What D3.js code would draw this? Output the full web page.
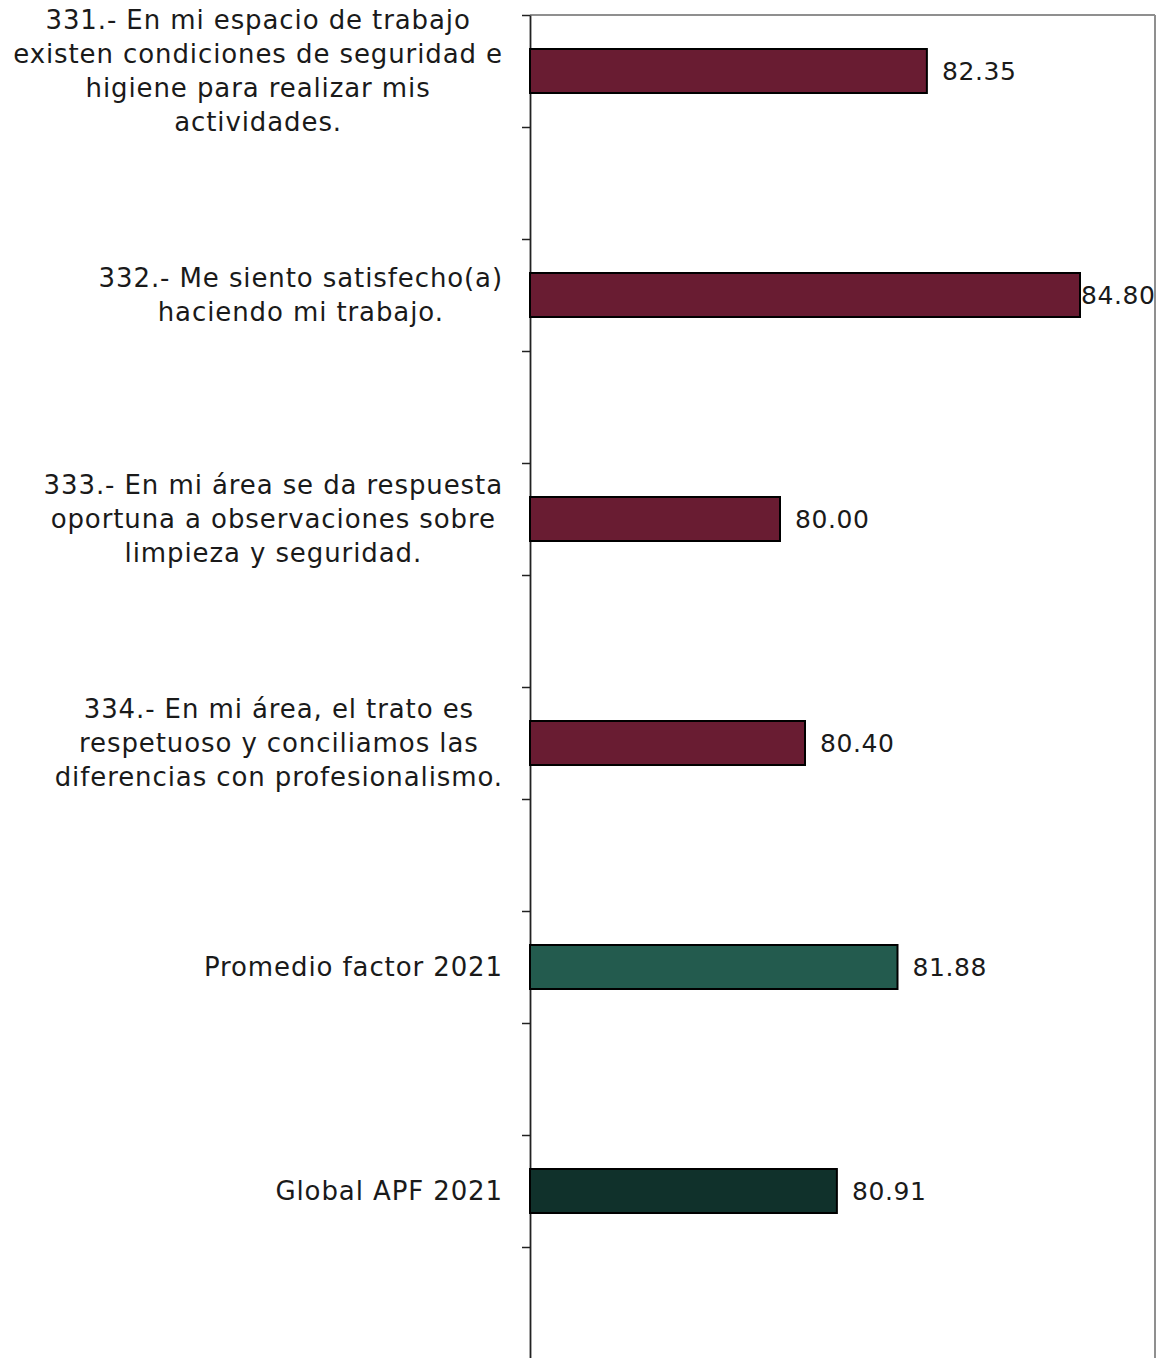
<!DOCTYPE html>
<html>
<head>
<meta charset="utf-8">
<script src="https://cdn.jsdelivr.net/npm/d3@7"></script>
<style>
  html, body { margin: 0; padding: 0; background: #fff; }
  svg text { font-family: "DejaVu Sans", sans-serif; fill: #1a1a1a; }
</style>
</head>
<body>
<svg id="chart" width="1163" height="1358"></svg>
<script>
// Category labels (one entry per line), values and bar colours
const categories = [
  ["331.- En mi espacio de trabajo", "existen condiciones de seguridad e", "higiene para realizar mis", "actividades."],
  ["332.- Me siento satisfecho(a)", "haciendo mi trabajo."],
  ["333.- En mi área se da respuesta", "oportuna a observaciones sobre", "limpieza y seguridad."],
  ["334.- En mi área, el trato es", "respetuoso y conciliamos las", "diferencias con profesionalismo."],
  ["Promedio factor 2021"],
  ["Global APF 2021"]
];
const values = [82.35, 84.80, 80.00, 80.40, 81.88, 80.91];
const barColors = ["#691C32", "#691C32", "#691C32", "#691C32", "#235B4E", "#10312B"];
const xDomain = [76, 86];

const svg = d3.select("#chart");
const plotLeft = 530, plotRight = 1155, plotTop = 15, plotBottom = 1359;
const labelSize = 26, labelSpacing = 0.9, valueSize = 25, valueSpacing = 0.6, lineH = 34;

const ids = categories.map((c, i) => i);
const y = d3.scaleBand().domain(ids).range([plotTop, plotBottom]).paddingInner(0).paddingOuter(0);
const x = d3.scaleLinear().domain(xDomain).range([plotLeft, plotRight]);
const barH = 44;
const barCenter = i => y(i) + y.bandwidth() * 0.25;

// Plot area frame (top and right edges)
svg.append("line").attr("x1", plotLeft).attr("x2", plotRight).attr("y1", plotTop).attr("y2", plotTop)
  .attr("stroke", "#8f8f8f").attr("stroke-width", 2);
svg.append("line").attr("x1", plotRight).attr("x2", plotRight).attr("y1", plotTop).attr("y2", plotBottom)
  .attr("stroke", "#8f8f8f").attr("stroke-width", 2);

// Category axis with a tick every half band
const slots = d3.scaleLinear().domain([0, categories.length * 2]).range([plotTop, plotBottom]);
const axis = svg.append("g").attr("transform", `translate(${plotLeft},0)`)
  .call(d3.axisLeft(slots).tickValues(d3.range(0, categories.length * 2 + 1))
    .tickFormat("").tickSize(8).tickSizeOuter(0));
axis.select(".domain").attr("stroke", "#222").attr("stroke-width", 1.8);
axis.selectAll(".tick line").attr("stroke", "#222").attr("stroke-width", 1.5);

// Bars
svg.append("g").selectAll("rect").data(values).join("rect")
  .attr("x", x(xDomain[0]))
  .attr("y", (d, i) => barCenter(i) - barH / 2)
  .attr("width", d => x(d) - x(xDomain[0]))
  .attr("height", barH)
  .attr("fill", (d, i) => barColors[i])
  .attr("stroke", "#000").attr("stroke-width", 2);

// Value labels, kept inside the chart's right edge
const vl = svg.append("g").selectAll("text").data(values).join("text")
  .attr("y", (d, i) => barCenter(i))
  .attr("dy", "0.36em")
  .attr("font-size", valueSize)
  .attr("letter-spacing", valueSpacing)
  .text(d => d.toFixed(2));
vl.each(function(d) {
  const w = this.getComputedTextLength();
  let tx = x(d) + 15;
  if (tx + w > 1160) tx = x(d) + 1;
  d3.select(this).attr("x", tx);
});

// Category labels: block right-aligned against the axis, lines centred within it
const labelRight = 503;
categories.forEach((lines, i) => {
  const g = svg.append("g");
  const n = lines.length;
  const texts = lines.map((ln, k) => g.append("text")
    .attr("font-size", labelSize)
    .attr("letter-spacing", labelSpacing)
    .attr("text-anchor", "middle")
    .attr("y", barCenter(i) + (k - (n - 1) / 2) * lineH)
    .attr("dy", "0.36em")
    .text(ln));
  const maxW = d3.max(texts, t => t.node().getComputedTextLength());
  texts.forEach(t => t.attr("x", labelRight - maxW / 2));
});
</script>
</body>
</html>
